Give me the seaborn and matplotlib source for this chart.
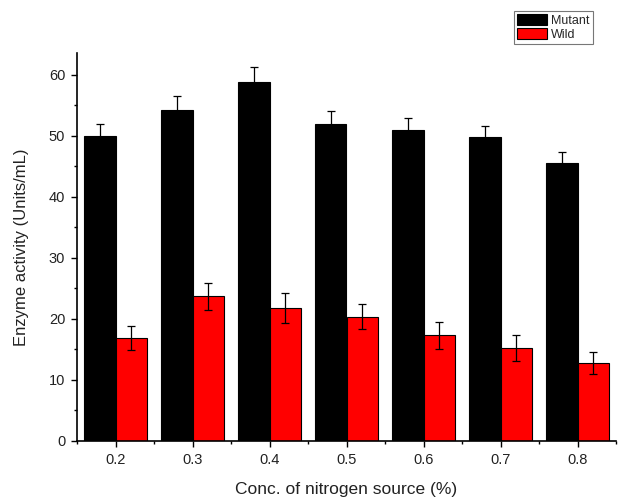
import numpy as np
import pandas as pd
import matplotlib
matplotlib.use("Agg")
import matplotlib.pyplot as plt
from matplotlib.ticker import MultipleLocator, FixedLocator
import seaborn as sns

# Enzyme activity by nitrogen source concentration
concentrations = ["0.2", "0.3", "0.4", "0.5", "0.6", "0.7", "0.8"]
mutant_mean = [50.0, 54.3, 58.8, 52.0, 51.0, 49.8, 45.5]
mutant_sd = [2.0, 2.3, 2.5, 2.1, 2.0, 1.9, 1.9]
wild_mean = [16.9, 23.7, 21.8, 20.4, 17.3, 15.2, 12.8]
wild_sd = [2.0, 2.2, 2.4, 2.1, 2.2, 2.1, 1.8]
strains = ["Mutant", "Wild"]
colors = ["#000000", "#ff0000"]

df = pd.DataFrame({
    "conc": concentrations * 2,
    "strain": [strains[0]] * len(concentrations) + [strains[1]] * len(concentrations),
    "activity": mutant_mean + wild_mean,
})
sd_by_strain = {strains[0]: mutant_sd, strains[1]: wild_sd}

sns.set_style("ticks")
plt.rcParams["font.family"] = ["Liberation Sans", "DejaVu Sans"]

fig = plt.figure(figsize=(6.18, 5.01), dpi=100)
ax = fig.add_axes([77 / 618, 60 / 501, 539 / 618, 388 / 501])

sns.barplot(data=df, x="conc", y="activity", hue="strain", order=concentrations,
            hue_order=strains, palette=colors, width=0.82, errorbar=None,
            edgecolor="black", linewidth=0.8, saturation=1, ax=ax, legend=False)

# error bars at the bar centres produced by seaborn
for container, name in zip(ax.containers, strains):
    xs = [p.get_x() + p.get_width() / 2 for p in container.patches]
    ys = [p.get_height() for p in container.patches]
    ax.errorbar(xs, ys, yerr=sd_by_strain[name], fmt="none", ecolor="black",
                elinewidth=0.9, capsize=2.6, capthick=0.9, zorder=5)

ax.set_xlim(-0.5, 6.5)
ax.set_ylim(0, 63.6)
ax.yaxis.set_major_locator(MultipleLocator(10))
ax.yaxis.set_minor_locator(MultipleLocator(5))
ax.xaxis.set_minor_locator(FixedLocator(np.arange(-0.5, 7.0, 1.0)))

for side in ["top", "right"]:
    ax.spines[side].set_visible(False)
for side in ["left", "bottom"]:
    ax.spines[side].set_linewidth(1.2)
    ax.spines[side].set_color("black")

ax.tick_params(axis="both", which="major", direction="out", length=4.5, width=1.0,
               color="black", labelsize=10.5, labelcolor="#222222", pad=4)
ax.tick_params(axis="both", which="minor", direction="out", length=2.5, width=1.0,
               color="black")

ax.set_xlabel("Conc. of nitrogen source (%)", fontsize=12.5, color="#222222", labelpad=11)
ax.set_ylabel("Enzyme activity (Units/mL)", fontsize=12, color="#222222", labelpad=14)

handles = [plt.Rectangle((0, 0), 1, 1, facecolor=c, edgecolor="black", linewidth=0.8)
           for c in colors]
leg = fig.legend(handles, strains, loc="upper left",
                 bbox_to_anchor=(514 / 618, 1 - 11 / 501), frameon=True,
                 fontsize=9, handlelength=2.4, handleheight=0.95,
                 handletextpad=0.3, borderpad=0.25, labelspacing=0.1,
                 fancybox=False, borderaxespad=0)
leg.get_frame().set_edgecolor("#555555")
leg.get_frame().set_linewidth(0.8)

fig.savefig("out.png", dpi=100)
